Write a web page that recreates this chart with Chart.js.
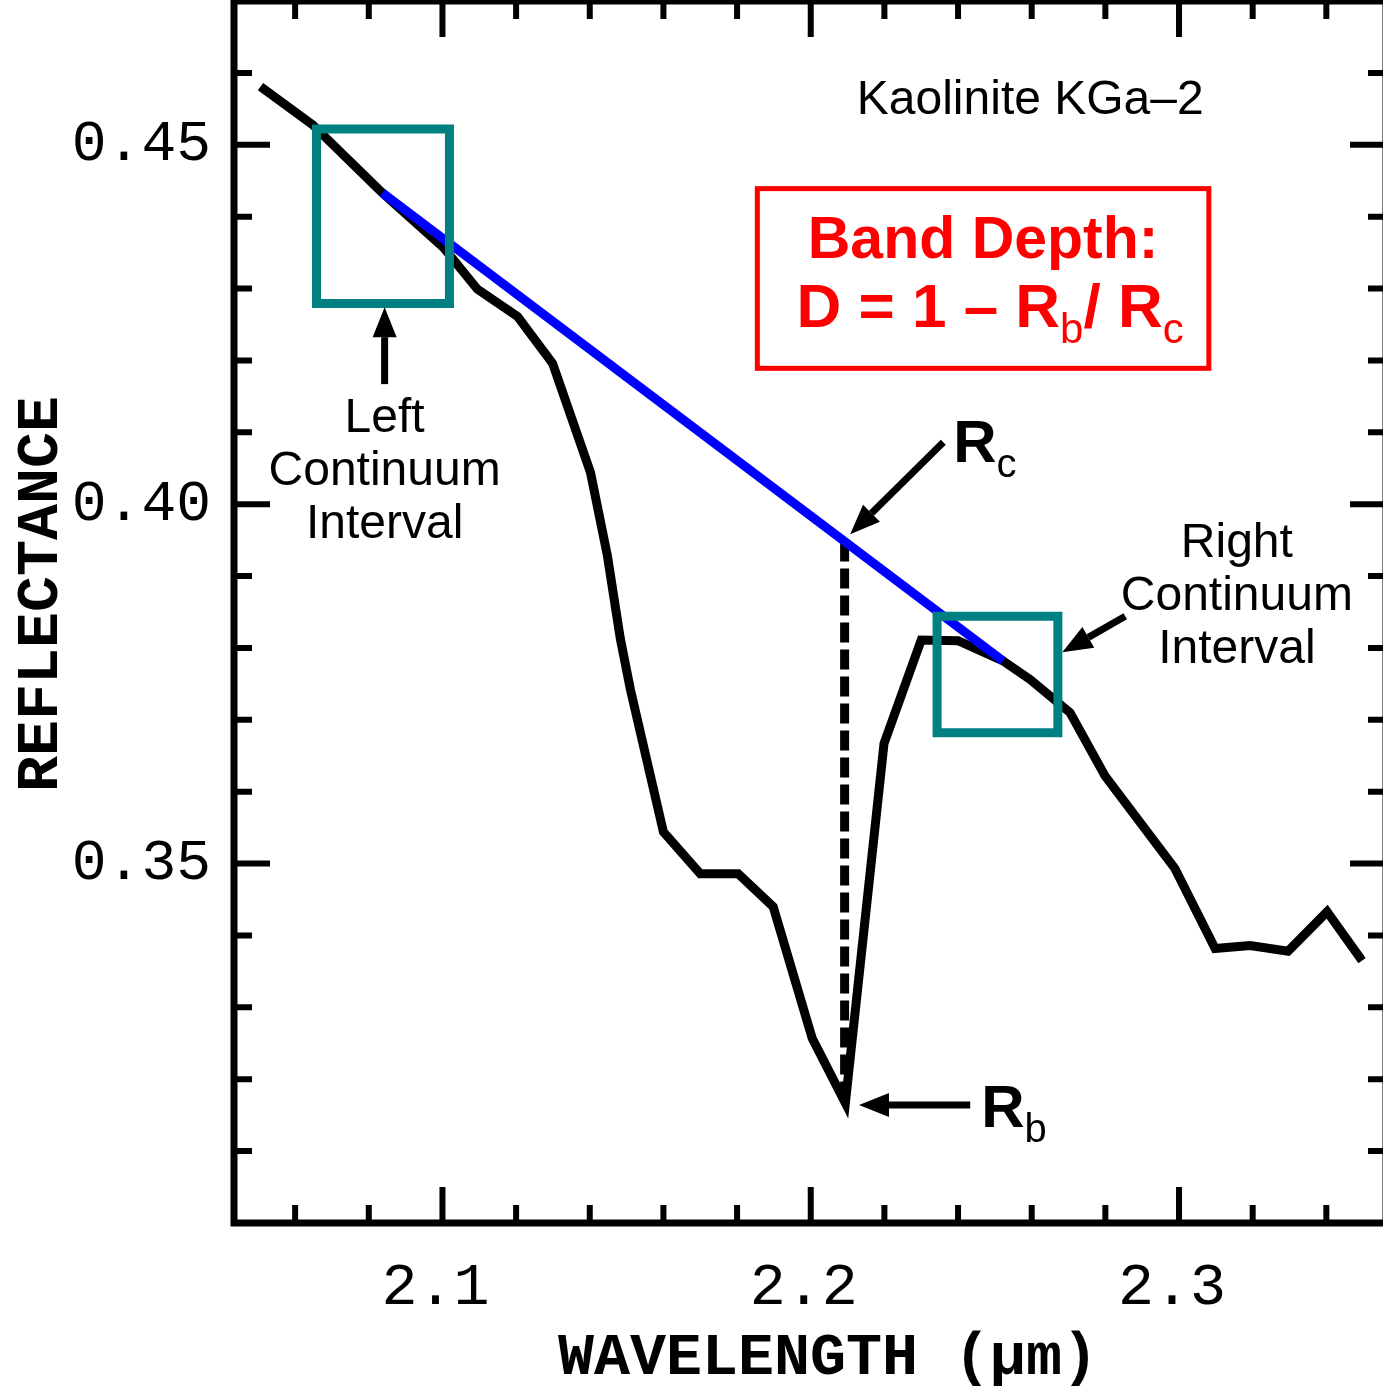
<!DOCTYPE html>
<html lang="en">
<head>
<meta charset="UTF-8">
<title>Kaolinite KGa-2 band depth</title>
<style>
  html, body { margin: 0; padding: 0; background: #fff; overflow: hidden; }
  #wrap { width: 1390px; height: 1386px; }
</style>
<script src="https://cdn.jsdelivr.net/npm/chart.js"></script>
</head>
<body>
<div id="wrap"><canvas id="chart" width="1390" height="1386"></canvas></div>
<script>
// spectrum
const wavelength = [2.0506, 2.0647, 2.0837, 2.1003, 2.1095, 2.1204, 2.1299, 2.1402, 2.1448, 2.1483,
  2.1510, 2.1600, 2.1700, 2.1803, 2.1898, 2.2004, 2.2094, 2.2199, 2.2300, 2.2400,
  2.2522, 2.2596, 2.2704, 2.2799, 2.2989, 2.3098, 2.3193, 2.3296, 2.3402, 2.3497];
const reflectance = [0.4581, 0.4528, 0.4433, 0.4357, 0.4299, 0.4261, 0.4196, 0.4044, 0.3928, 0.3813,
  0.3743, 0.3544, 0.3486, 0.3486, 0.3440, 0.3257, 0.3167, 0.3667, 0.3811, 0.3810,
  0.3782, 0.3756, 0.3710, 0.3622, 0.3493, 0.3382, 0.3386, 0.3378, 0.3433, 0.3365];

// continuum line between the two interval centres
const continuumWl = [2.0837, 2.2522];
const continuumRefl = [0.4433, 0.3782];

// band centre: Rc on the continuum, Rb on the spectrum
const bandWl = 2.2092;
const rcRefl = 0.3948;
const rbRefl = 0.3170;

// continuum interval boxes
const leftBoxWl = [2.0658, 2.1019];
const leftBoxRefl = [0.4279, 0.4522];
const rightBoxWl = [2.2343, 2.2671];
const rightBoxRefl = [0.3682, 0.3844];

const xTickLabels = [2.1, 2.2, 2.3];
const yTickLabels = [0.35, 0.40, 0.45];

const MONO = "'Liberation Mono', 'DejaVu Sans Mono', monospace";
const SANS = "'Liberation Sans', Arial, sans-serif";
const TEAL = '#008080';

function boxPoints(xs, ys) {
  return [
    {x: xs[0], y: ys[0]}, {x: xs[1], y: ys[0]}, {x: xs[1], y: ys[1]},
    {x: xs[0], y: ys[1]}, {x: xs[0], y: ys[0]}
  ];
}

const spectrum = wavelength.map((w, i) => ({x: w, y: reflectance[i]}));
const continuum = continuumWl.map((w, i) => ({x: w, y: continuumRefl[i]}));

function near(v, list) {
  return list.some(l => Math.abs(l - v) < 1e-6);
}

// frame + inward ticks on all four sides
const framePlugin = {
  id: 'frame',
  afterDatasetsDraw(chart) {
    const {ctx, chartArea: a, scales: {x, y}} = chart;
    ctx.save();
    ctx.strokeStyle = '#000';
    ctx.lineWidth = 6;
    ctx.lineCap = 'butt';
    x.ticks.forEach(t => {
      const px = x.getPixelForValue(t.value);
      const major = Math.abs(t.value * 10 - Math.round(t.value * 10)) < 1e-6;
      const len = major ? 36 : 18;
      ctx.beginPath();
      ctx.moveTo(px, a.bottom); ctx.lineTo(px, a.bottom - len);
      ctx.moveTo(px, a.top); ctx.lineTo(px, a.top + len);
      ctx.stroke();
    });
    y.ticks.forEach(t => {
      const py = y.getPixelForValue(t.value);
      const major = Math.abs(t.value * 20 - Math.round(t.value * 20)) < 1e-6;
      const len = major ? 36 : 18;
      ctx.beginPath();
      ctx.moveTo(a.left, py); ctx.lineTo(a.left + len, py);
      ctx.moveTo(a.right, py); ctx.lineTo(a.right - len, py);
      ctx.stroke();
    });
    ctx.lineWidth = 7;
    ctx.strokeRect(a.left, a.top, a.right - a.left, a.bottom - a.top);
    ctx.restore();
  }
};

function arrow(ctx, x1, y1, x2, y2) {
  const ang = Math.atan2(y2 - y1, x2 - x1);
  const hl = 30, hw = 12;
  const bx = x2 - hl * Math.cos(ang), by = y2 - hl * Math.sin(ang);
  ctx.beginPath();
  ctx.moveTo(x1, y1); ctx.lineTo(bx, by);
  ctx.lineWidth = 7;
  ctx.stroke();
  ctx.beginPath();
  ctx.moveTo(x2, y2);
  ctx.lineTo(bx + hw * Math.sin(ang), by - hw * Math.cos(ang));
  ctx.lineTo(bx - hw * Math.sin(ang), by + hw * Math.cos(ang));
  ctx.closePath();
  ctx.fill();
}

// text runs with subscripts; parts = [text, font, dy]
function runs(ctx, parts, x, y, align) {
  let w = 0;
  parts.forEach(p => { ctx.font = p[1]; w += ctx.measureText(p[0]).width; });
  let cx = align === 'center' ? x - w / 2 : x;
  ctx.textAlign = 'left';
  parts.forEach(p => {
    ctx.font = p[1];
    ctx.fillText(p[0], cx, y + p[2]);
    cx += ctx.measureText(p[0]).width;
  });
}

const notesPlugin = {
  id: 'notes',
  afterDraw(chart) {
    const {ctx, scales: {x, y}} = chart;
    const X = v => x.getPixelForValue(v), Y = v => y.getPixelForValue(v);
    ctx.save();
    ctx.fillStyle = '#000';
    ctx.strokeStyle = '#000';
    ctx.textBaseline = 'alphabetic';

    ctx.textAlign = 'center';
    ctx.font = '48px ' + SANS;
    ctx.fillText('Kaolinite KGa\u20132', X(2.2596), Y(0.4543));

    // band depth box
    ctx.strokeStyle = '#ff0000';
    ctx.lineWidth = 5;
    ctx.strokeRect(X(2.1855), Y(0.4439), X(2.3081) - X(2.1855), Y(0.4189) - Y(0.4439));
    ctx.fillStyle = '#ff0000';
    ctx.textAlign = 'center';
    ctx.font = 'bold 59px ' + SANS;
    ctx.fillText('Band Depth:', X(2.2468), Y(0.4343));
    runs(ctx, [
      ['D = 1 \u2013 R', 'bold 62px ' + SANS, 0],
      ['b', '42px ' + SANS, 16],
      ['/ R', 'bold 62px ' + SANS, 0],
      ['c', '42px ' + SANS, 16]
    ], X(2.2487), Y(0.4247), 'center');

    ctx.fillStyle = '#000';
    ctx.strokeStyle = '#000';
    ctx.font = '48px ' + SANS;
    ctx.textAlign = 'center';
    ['Left', 'Continuum', 'Interval'].forEach((s, i) => {
      ctx.fillText(s, X(2.0843), Y(0.4101) + i * 53);
    });
    ['Right', 'Continuum', 'Interval'].forEach((s, i) => {
      ctx.fillText(s, X(2.3157), Y(0.3926) + i * 53);
    });

    arrow(ctx, X(2.0843), Y(0.4167), X(2.0843), Y(0.4274));
    arrow(ctx, X(2.2854), Y(0.3844), X(2.2683), Y(0.3794));
    arrow(ctx, X(2.2360), Y(0.4086), X(2.2107), Y(0.3958));
    arrow(ctx, X(2.2433), Y(0.3164), X(2.2131), Y(0.3164));

    runs(ctx, [['R', 'bold 60px ' + SANS, 0], ['c', '40px ' + SANS, 15]], X(2.2387), Y(0.4058), 'left');
    runs(ctx, [['R', 'bold 60px ' + SANS, 0], ['b', '40px ' + SANS, 15]], X(2.2463), Y(0.3133), 'left');
    ctx.restore();
  }
};

const lineDefaults = {showLine: true, pointRadius: 0, tension: 0, fill: false,
  borderJoinStyle: 'miter', borderCapStyle: 'butt'};

new Chart(document.getElementById('chart'), {
  type: 'scatter',
  data: {
    datasets: [
      {data: boxPoints(leftBoxWl, leftBoxRefl), borderColor: TEAL, borderWidth: 9, borderCapStyle: 'square', order: 0},
      {data: boxPoints(rightBoxWl, rightBoxRefl), borderColor: TEAL, borderWidth: 9, borderCapStyle: 'square', order: 0},
      {data: continuum, borderColor: '#0000ff', borderWidth: 9, order: 1},
      {data: [{x: bandWl, y: rcRefl}, {x: bandWl, y: rbRefl}], borderColor: '#000', borderWidth: 9,
        borderDash: [20, 7], order: 2},
      {data: spectrum, borderColor: '#000', borderWidth: 9, order: 3}
    ].map(d => Object.assign({}, lineDefaults, d))
  },
  options: {
    responsive: false,
    animation: false,
    events: [],
    layout: {autoPadding: false, padding: {top: 1, right: 4, left: 0, bottom: 0}},
    plugins: {legend: {display: false}, tooltip: {enabled: false}},
    scales: {
      x: {
        type: 'linear', position: 'bottom', min: 2.0434, max: 2.3562,
        grid: {display: false, drawTicks: false}, border: {display: false},
        afterBuildTicks: s => {
          const t = [];
          for (let k = 103; k <= 117; k++) t.push({value: k / 50});
          s.ticks = t;
        },
        afterFit: s => { s.height = 163; s.paddingLeft = 0; s.paddingRight = 0; },
        ticks: {
          autoSkip: false, maxRotation: 0, padding: 29, labelOffset: -7, color: '#000',
          font: {family: MONO, size: 60},
          callback: v => near(v, xTickLabels) ? v.toFixed(1) : ''
        },
        title: {
          display: true, text: ' WAVELENGTH (\u00b5m)', color: '#000',
          font: {family: MONO, size: 60, weight: 'bold', lineHeight: 0.8},
          padding: {top: 0, bottom: 3}
        }
      },
      y: {
        type: 'linear', position: 'left', min: 0.30, max: 0.47,
        grid: {display: false, drawTicks: false}, border: {display: false},
        afterBuildTicks: s => {
          const t = [];
          for (let k = 30; k <= 47; k++) t.push({value: k / 100});
          s.ticks = t;
        },
        afterFit: s => { s.width = 234; s.paddingTop = 0; s.paddingBottom = 0; },
        ticks: {
          autoSkip: false, padding: 23, color: '#000',
          font: {family: MONO, size: 58},
          callback: v => near(v, yTickLabels) ? v.toFixed(2) : ''
        },
        title: {
          display: true, text: ' REFLECTANCE', color: '#000',
          font: {family: MONO, size: 60, weight: 'bold', lineHeight: 0.8},
          padding: {top: 18, bottom: 0}
        }
      }
    }
  },
  plugins: [framePlugin, notesPlugin]
});
</script>
</body>
</html>
